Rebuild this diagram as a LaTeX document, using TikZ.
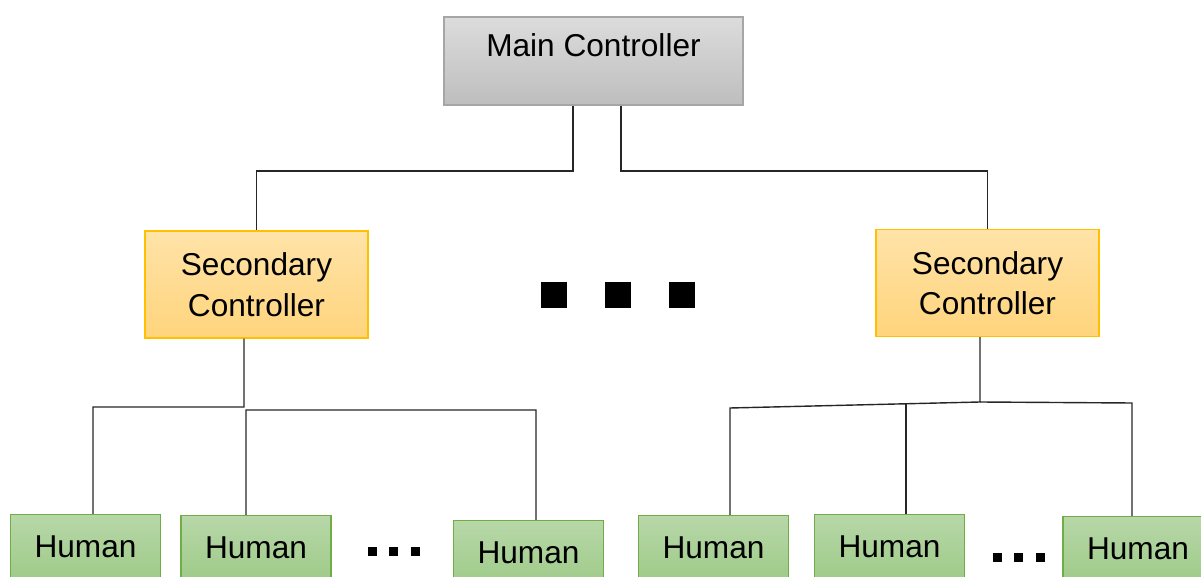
\documentclass[tikz,border=0pt]{standalone}
\usepackage{fontspec}
\setmainfont{Liberation Sans}
\usepackage{tikz}
\usepackage{xcolor}

\definecolor{maintop}{HTML}{DCDCDC}
\definecolor{mainbot}{HTML}{BEBEBE}
\definecolor{mainline}{HTML}{A6A6A6}
\definecolor{sectop}{HTML}{FFE3A8}
\definecolor{secbot}{HTML}{FFD47C}
\definecolor{secline}{HTML}{FFC000}
\definecolor{humtop}{HTML}{B7D7A8}
\definecolor{humbot}{HTML}{9FCB89}
\definecolor{humline}{HTML}{70AD47}

\begin{document}
\begin{tikzpicture}[x=0.02cm, y=-0.02cm,
    font=\fontsize{18}{23}\selectfont,
    mainbox/.style={draw=mainline, line width=0.8pt, top color=maintop, bottom color=mainbot,
        minimum width=5.98cm, inner ysep=0pt, text height=0.8cm, text depth=0.96cm},
    secbox/.style={draw=secline, line width=0.8pt, top color=sectop, bottom color=secbot,
        minimum width=4.46cm, minimum height=2.14cm, align=center},
    humbox/.style={draw=humline, line width=0.8pt, top color=humtop, bottom color=humbot,
        minimum width=3cm, minimum height=1.28cm, anchor=north},
    bigdot/.style={fill=black, inner sep=0pt, minimum size=0.52cm},
    smalldot/.style={fill=black, inner sep=0pt, minimum size=0.18cm},
    wire/.style={draw=black!85, line width=0.8pt}]
    \path[use as bounding box, clip] (0,0) rectangle (1201,577);

    % Controllers
    \node[mainbox] (main) at (593.5,61) {Main Controller};
    \node[secbox] (secL) at (256.5,284.5) {Secondary\\Controller};
    \node[secbox] (secR) at (987.5,283) {Secondary\\Controller};

    % Humans (bottom row runs off the page)
    \node[humbox] (h1) at (85.5,514) {Human};
    \node[humbox] (h2) at (256,515) {Human};
    \node[humbox] (h3) at (528.5,520) {Human};
    \node[humbox] (h4) at (713.5,515) {Human};
    \node[humbox] (h5) at (889.5,514) {Human};
    \node[humbox] (h6) at (1138,516) {Human};

    % Dots
    \node[bigdot] (d1) at (554,295) {};
    \node[bigdot] (d2) at (618,295) {};
    \node[bigdot] (d3) at (682,295) {};
    \node[smalldot] (l1) at (372.5,551.5) {};
    \node[smalldot] (l2) at (393.5,551.5) {};
    \node[smalldot] (l3) at (415,551.5) {};
    \node[smalldot] (r1) at (997.5,557.5) {};
    \node[smalldot] (r2) at (1018.5,557.5) {};
    \node[smalldot] (r3) at (1040.5,557.5) {};

    % Junctions
    \coordinate (jL) at (256.5,171);
    \coordinate (jR) at (987.5,171);
    \coordinate (bL) at (244,407);
    \coordinate (bL2) at (246,410);
    \coordinate (bR) at (980,402);
    \coordinate (kR) at (730,408);
    \coordinate (mR) at (1132,403);

    % Main -> secondary
    \draw[wire] ([xshift=-0.41cm]main.south) |- (jL) -- (secL.north);
    \draw[wire] ([xshift=0.55cm]main.south) |- (jR) -- (secR.north);

    % Secondary -> humans, left
    \draw[wire] ([xshift=-0.25cm]secL.south) -- (bL) -| ([xshift=0.15cm]h1.north);
    \draw[wire] ([xshift=-0.2cm]h2.north) -- (bL2) -| ([xshift=0.15cm]h3.north);

    % Secondary -> humans, right
    \draw[wire] ([xshift=-0.15cm]secR.south) -- (bR) -- (kR) -- (kR |- h4.north);
    \draw[wire] ([xshift=0.33cm]h5.north) -- ++(0,-111);
    \draw[wire] (bR) -- (mR) -- (mR |- h6.north);
\end{tikzpicture}
\end{document}
